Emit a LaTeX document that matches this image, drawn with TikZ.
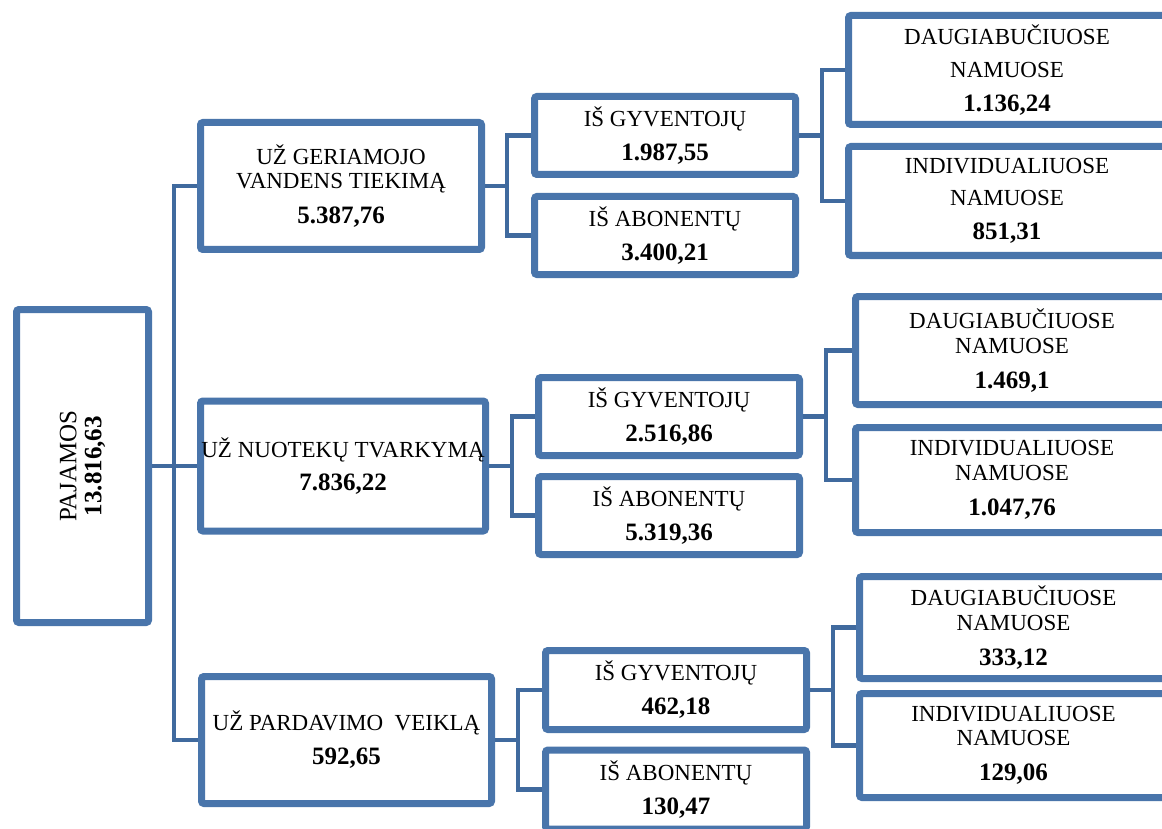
\documentclass[tikz,border=0pt]{standalone}
\usepackage{fontspec}
\setmainfont{Liberation Serif}
\usetikzlibrary{shadows}
\definecolor{boxblue}{RGB}{73,117,171}
\definecolor{lineblue}{RGB}{64,106,158}
\newcommand{\nb}[1]{{\fontsize{25}{24.5}\selectfont\bfseries #1}}
\begin{document}
\begin{tikzpicture}[x=1pt,y=-1pt,
  box/.style={draw=boxblue, line width=7pt, fill=white, rounded corners=2.5pt,
    inner sep=0pt, align=center, font=\fontsize{23}{24.5}\selectfont,
    drop shadow={shadow xshift=1.5pt, shadow yshift=-2.5pt, opacity=0.3}},
  conn/.style={draw=lineblue, line width=4.5pt}]
\useasboundingbox (0,0) rectangle (1162,829);
\clip (0,0) rectangle (1162,829);
% root
\node[box, rotate=90, minimum width=313pt, minimum height=132pt,
  font=\fontsize{25}{25}\selectfont] (paj) at (82.5,466) {PAJAMOS\\\nb{13.816,63}};
% level 1
\node[box, minimum width=281pt, minimum height=127pt] (G) at (341,186)
  {UŽ GERIAMOJO\\VANDENS TIEKIMĄ\\[10pt]\nb{5.387,76}};
\node[box, minimum width=285pt, minimum height=130pt] (N) at (343,466)
  {UŽ NUOTEKŲ TVARKYMĄ\\[9pt]\nb{7.836,22}};
\node[box, minimum width=290pt, minimum height=127pt] (P) at (346.5,740)
  {UŽ PARDAVIMO\ \ VEIKLĄ\\[9.5pt]\nb{592,65}};
% level 2
\node[box, minimum width=261pt, minimum height=78pt] (Ggyv) at (665,135.5)
  {IŠ GYVENTOJŲ\\[9.5pt]\nb{1.987,55}};
\node[box, minimum width=261pt, minimum height=78pt] (Gab) at (665,235.5)
  {IŠ ABONENTŲ\\[9.5pt]\nb{3.400,21}};
\node[box, minimum width=261pt, minimum height=78pt] (Ngyv) at (669,416.5)
  {IŠ GYVENTOJŲ\\[9.5pt]\nb{2.516,86}};
\node[box, minimum width=261pt, minimum height=78pt] (Nab) at (669,515.5)
  {IŠ ABONENTŲ\\[9.5pt]\nb{5.319,36}};
\node[box, minimum width=261pt, minimum height=79pt] (Pgyv) at (676,690)
  {IŠ GYVENTOJŲ\\[9.5pt]\nb{462,18}};
\node[box, minimum width=261pt, minimum height=79pt] (Pab) at (676,789.5)
  {IŠ ABONENTŲ\\[9.5pt]\nb{130,47}};
% level 3
\node[box, minimum width=317pt, minimum height=109pt] (Gd) at (1007,70)
  {DAUGIABUČIUOSE\\[8.5pt]NAMUOSE\\[9.5pt]\nb{1.136,24}};
\node[box, minimum width=317pt, minimum height=109pt] (Gi) at (1007,201)
  {INDIVIDUALIUOSE\\[8pt]NAMUOSE\\[9.5pt]\nb{851,31}};
\node[box, minimum width=313pt, minimum height=108pt] (Nd) at (1012,350.5)
  {DAUGIABUČIUOSE\\NAMUOSE\\[10.5pt]\nb{1.469,1}};
\node[box, minimum width=313pt, minimum height=105pt] (Ni) at (1012,480)
  {INDIVIDUALIUOSE\\NAMUOSE\\[10.5pt]\nb{1.047,76}};
\node[box, minimum width=308pt, minimum height=102pt] (Pd) at (1013.5,627.5)
  {DAUGIABUČIUOSE\\NAMUOSE\\[10.5pt]\nb{333,12}};
\node[box, minimum width=308pt, minimum height=104pt] (Pi) at (1013.5,745.5)
  {INDIVIDUALIUOSE\\NAMUOSE\\[10.5pt]\nb{129,06}};
% junction columns
\coordinate (tk) at (174,0);
\coordinate (j1) at (507,0);
\coordinate (j2) at (512,0);
\coordinate (j3) at (518,0);
\coordinate (k1) at (822,0);
\coordinate (k2) at (826,0);
\coordinate (k3) at (833,0);
% connectors
\draw[conn] (paj.south) -- (paj.south -| tk);
\draw[conn] (G.west) -- (G.west -| tk) -- (P.west -| tk) -- (P.west);
\draw[conn] (N.west -| tk) -- (N.west);
\draw[conn] (G.east) -- (G.east -| j1);
\draw[conn] (Ggyv.west) -- (Ggyv.west -| j1) -- (Gab.west -| j1) -- (Gab.west);
\draw[conn] (N.east) -- (N.east -| j2);
\draw[conn] (Ngyv.west) -- (Ngyv.west -| j2) -- (Nab.west -| j2) -- (Nab.west);
\draw[conn] (P.east) -- (P.east -| j3);
\draw[conn] (Pgyv.west) -- (Pgyv.west -| j3) -- (Pab.west -| j3) -- (Pab.west);
\draw[conn] (Ggyv.east) -- (Ggyv.east -| k1);
\draw[conn] (Gd.west) -- (Gd.west -| k1) -- (Gi.west -| k1) -- (Gi.west);
\draw[conn] (Ngyv.east) -- (Ngyv.east -| k2);
\draw[conn] (Nd.west) -- (Nd.west -| k2) -- (Ni.west -| k2) -- (Ni.west);
\draw[conn] (Pgyv.east) -- (Pgyv.east -| k3);
\draw[conn] (Pd.west) -- (Pd.west -| k3) -- (Pi.west -| k3) -- (Pi.west);
\end{tikzpicture}
\end{document}
